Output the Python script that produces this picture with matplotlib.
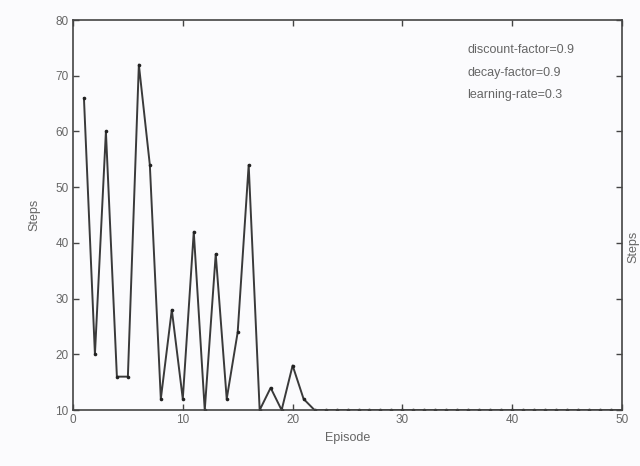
import matplotlib.pyplot as plt

# ---------------------------------------------------------------------
#  Dados
# ---------------------------------------------------------------------

episodios = list(range(1, 51))
passos_inicio = [66, 20, 60, 16, 16, 72, 54, 12, 28, 12, 42, 10,
                 38, 12, 24, 54, 10, 14, 10, 18, 12]
passos = passos_inicio + [10] * (len(episodios) - len(passos_inicio))

parametros = ['discount-factor=0.9', 'decay-factor=0.9', 'learning-rate=0.3']

x_ticks = [0, 10, 20, 30, 40, 50]
y_ticks = [10, 20, 30, 40, 50, 60, 70, 80]

# ---------------------------------------------------------------------
#  Figura
# ---------------------------------------------------------------------

plt.rcParams['font.family'] = ['Liberation Sans', 'DejaVu Sans']
cinza = '#666666'

fig = plt.figure(figsize=(6.4, 4.66), dpi=100, facecolor='#fbfbfd')
ax = fig.add_axes([0.114, 0.12, 0.858, 0.837])
ax.set_facecolor('#fbfbfd')

ax.plot(episodios, passos, color='#3a3a3a', linewidth=1.4,
        marker='o', markersize=2.6, markerfacecolor='#222222', markeredgewidth=0)

ax.set_xlim(0, 50)
ax.set_ylim(10, 80)
ax.set_xticks(x_ticks)
ax.set_yticks(y_ticks)
ax.tick_params(direction='in', top=True, right=True, length=4, width=1,
               colors='#444444', labelcolor=cinza, labelsize=8.5, pad=3)

for s in ax.spines.values():
    s.set_color('#444444')
    s.set_linewidth(1.2)

ax.set_xlabel('Episode', color=cinza, fontsize=9, labelpad=4)
ax.set_ylabel('Steps', color=cinza, fontsize=9, labelpad=11)

for i, txt in enumerate(parametros):
    ax.text(0.718, 0.922 - i * 0.057, txt, transform=ax.transAxes,
            color=cinza, fontsize=9, ha='left', va='center')

# rotulo do grafico vizinho, na borda direita
fig.text(0.999, 0.47, 'Steps', rotation=90, color=cinza, fontsize=9,
         ha='right', va='center')

plt.savefig('out.png', dpi=100, facecolor=fig.get_facecolor())
